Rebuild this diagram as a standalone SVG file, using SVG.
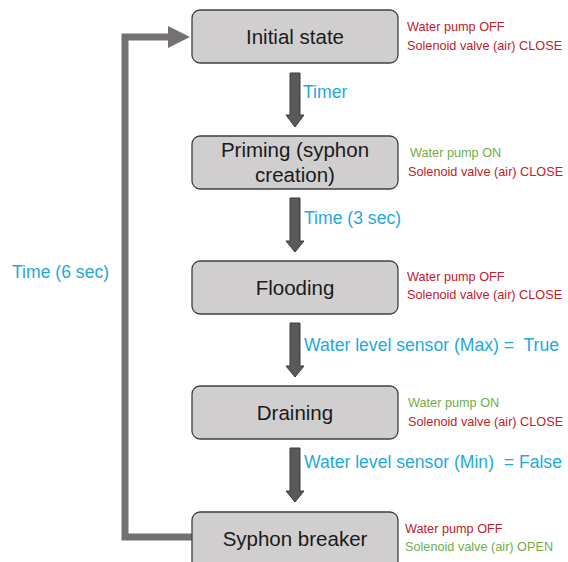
<svg xmlns="http://www.w3.org/2000/svg" width="568" height="562" viewBox="0 0 568 562">
<style>
.box{fill:#d0cece;stroke:#3f3f3f;stroke-width:1.3}
.lbl{font-family:"Liberation Sans",Arial,sans-serif;font-size:20.5px;fill:#1a1a1a;text-anchor:middle}
.st{font-family:"Liberation Sans",Arial,sans-serif;font-size:12.7px}
.red{fill:#c0202a}
.grn{fill:#70ad47}
.cy{font-family:"Liberation Sans",Arial,sans-serif;font-size:17.6px;fill:#1fa8e0}
.arr{fill:#5a5a5a;stroke:#3a3a3a;stroke-width:1}
.loop{fill:none;stroke:#767171;stroke-width:7}
</style>
<rect width="568" height="562" fill="#ffffff"/>
<g id="connectors">
<polyline class="loop" points="192,537 125,537 125,37 170,37"/>
<polygon fill="#767171" points="168,26 190,37 168,48"/>
<polygon class="arr" points="290,73 300,73 300,115 304,115 295,127 286,115 290,115"/>
<polygon class="arr" points="290,198 300,198 300,241 304,241 295,252 286,241 290,241"/>
<polygon class="arr" points="290,323 300,323 300,366 304,366 295,377 286,366 290,366"/>
<polygon class="arr" points="290,448 300,448 300,491 304,491 295,502 286,491 290,491"/>
<text class="cy" x="303" y="98">Timer</text>
<text class="cy" x="304" y="224">Time (3 sec)</text>
<text class="cy" x="304" y="351" xml:space="preserve">Water level sensor (Max) =  True</text>
<text class="cy" x="304" y="468" xml:space="preserve">Water level sensor (Min)  = False</text>
<text class="cy" x="12" y="278">Time (6 sec)</text>
</g>
<g id="initial">
<rect class="box" x="192" y="10" width="206" height="53" rx="8"/>
<text class="lbl" x="295" y="44">Initial state</text>
<text class="st red" x="407" y="31">Water pump OFF</text>
<text class="st red" x="407" y="50">Solenoid valve (air) CLOSE</text>
</g>
<g id="priming">
<rect class="box" x="192" y="136" width="206" height="53" rx="8"/>
<text class="lbl" x="295" y="157">Priming (syphon</text>
<text class="lbl" x="295" y="182">creation)</text>
<text class="st grn" x="410" y="157">Water pump ON</text>
<text class="st red" x="408" y="176">Solenoid valve (air) CLOSE</text>
</g>
<g id="flooding">
<rect class="box" x="192" y="261" width="206" height="53" rx="8"/>
<text class="lbl" x="295" y="295">Flooding</text>
<text class="st red" x="407" y="281">Water pump OFF</text>
<text class="st red" x="407" y="299">Solenoid valve (air) CLOSE</text>
</g>
<g id="draining">
<rect class="box" x="192" y="386" width="206" height="53" rx="8"/>
<text class="lbl" x="295" y="420">Draining</text>
<text class="st grn" x="408" y="407">Water pump ON</text>
<text class="st red" x="408" y="426">Solenoid valve (air) CLOSE</text>
</g>
<g id="syphon">
<rect class="box" x="192" y="512" width="206" height="60" rx="8"/>
<text class="lbl" x="295" y="546">Syphon breaker</text>
<text class="st red" x="405" y="533">Water pump OFF</text>
<text class="st grn" x="405" y="551">Solenoid valve (air) OPEN</text>
</g>
</svg>
